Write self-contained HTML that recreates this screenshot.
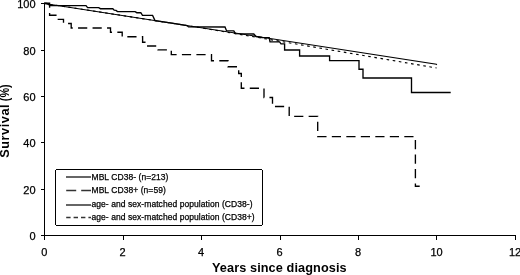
<!DOCTYPE html>
<html><head><meta charset="utf-8"><style>
html,body{margin:0;padding:0;background:#fff;width:520px;height:275px;overflow:hidden}
svg{display:block;will-change:transform}
text{font-family:"Liberation Sans",sans-serif;fill:#000}
.t{font-size:11px;stroke:#000;stroke-width:0.25px}
.b{font-size:12.7px;font-weight:bold;letter-spacing:0.1px}
.l{font-size:8.5px;letter-spacing:0.06px;stroke:#000;stroke-width:0.25px}
</style></head><body>
<svg width="520" height="275" viewBox="0 0 520 275">
<rect width="520" height="275" fill="#fff"/>
<!-- axes -->
<g stroke="#000" stroke-width="1" fill="none" shape-rendering="crispEdges">
<path d="M44.5,3V240M41,235.5H516"/>
<path d="M41,3.5H44M41,50.5H44M41,96.5H44M41,142.5H44M41,189.5H44"/>
<path d="M123,236V240M201.5,236V240M280,236V240M358.5,236V240M436.5,236V240M515.5,236V240"/>
</g>
<!-- y labels -->
<g class="t" text-anchor="end">
<text x="35.6" y="8.3">100</text>
<text x="35.6" y="54.7">80</text>
<text x="35.6" y="101">60</text>
<text x="35.6" y="147.3">40</text>
<text x="35.6" y="193.7">20</text>
<text x="35.6" y="240">0</text>
</g>
<!-- x labels -->
<g class="t" text-anchor="middle">
<text x="44.3" y="255.7">0</text>
<text x="122.5" y="255.7">2</text>
<text x="201.0" y="255.7">4</text>
<text x="279.5" y="255.7">6</text>
<text x="358.0" y="255.7">8</text>
<text x="436.5" y="255.7">10</text>
<text x="515.0" y="255.7">12</text>
</g>
<text class="b" x="212" y="272">Years since diagnosis</text>
<text class="b" transform="translate(9.4,157.7) rotate(-90)" style="letter-spacing:0.55px">Survival</text>
<text class="b" transform="translate(9.4,84.2) rotate(-90) scale(0.85,1)" text-anchor="end">(%)</text>

<!-- curves -->
<g fill="none" stroke="#000" stroke-width="1.35" stroke-linejoin="miter">
<!-- population CD38- (solid) -->
<path d="M44,3.2L48,4.2L56,5.2L436.4,64.3L436.8,64.8" stroke-width="1.15"/>
<!-- population CD38+ (dotted) -->
<path d="M44,3.2L48,4.2L56,5.2L200,27.6L436.6,68" stroke-width="1.15" stroke-dasharray="2.6 3.6"/>
<!-- MBL CD38- observed (solid step) -->
<path d="M44,3.2L47,3.3L50,5.5L86,5.6L87.6,7.6L98.7,7.7L100.4,8.7L112.8,8.7L114.2,10.2L116,10.4L117.5,11.6L135.1,11.7L136.8,12.7L140.8,12.7L142.5,15.4L152.6,15.4L155,20.6L172,23.2L187,25.6L188.5,26.9L225,27L226.5,30.7L233.8,30.9L235.5,33.6L253.8,34L256,36.5L262,37.5L269.2,37.7L270,41.9L279.6,41.9L281,43.8L284.6,43.8L284.6,50L299.6,50L299.6,56L329.6,56L329.6,60.6L359,60.6L359,69.2L363,69.2L363,78L411.5,78L411.5,92.5L450.7,92.5"/>
<!-- MBL CD38+ observed (dashed step) -->
<path d="M44,3.2L49.6,3.2L49.6,15.2L57,15.2L57,19.4L63.5,19.4L63.5,23.5L71.2,23.5L71.2,28L110.5,28L110.5,32.2L122.2,32.2L122.2,36.7L142.6,36.7L142.6,42.2L146,42.2L146,46L158,46L158,49.8L171.3,49.8L171.3,54.6L211.5,54.6L211.5,60.7L228,60.7L228,66.7L238.7,66.7L238.7,73.5L241.3,73.5L241.3,88.2L264,88.2L264,97.5L272.5,97.5L272.5,106.5L289.2,106.5L289.2,116.3L317.7,116.3L317.7,136.6L415.4,136.6L415.4,186.2L419.7,186.2" stroke-dasharray="9.2 5.295" stroke-dashoffset="13.625"/>
</g>

<!-- legend -->
<path d="M56.5,169.5H261.5L262.5,170.5V224.5L261.5,225.5H56.5L55.5,224.5V170.5Z" fill="#fff" stroke="#000" stroke-width="1" shape-rendering="crispEdges"/>
<g fill="none" stroke="#333" stroke-width="1.5">
<path d="M66,177H91"/>
<path d="M66.2,190.5H91" stroke-dasharray="10 5"/>
<path d="M66,205H91"/>
<path d="M66.2,217.5H91" stroke-dasharray="4.4 3"/>
</g>
<g class="l">
<text x="91.5" y="179.7">MBL CD38- (n=213)</text>
<text x="91.5" y="192.9">MBL CD38+ (n=59)</text>
<text x="91.5" y="207.3">age- and sex-matched population (CD38-)</text>
<text x="91.5" y="219.7">age- and sex-matched population (CD38+)</text>
</g>
</svg>
</body></html>
